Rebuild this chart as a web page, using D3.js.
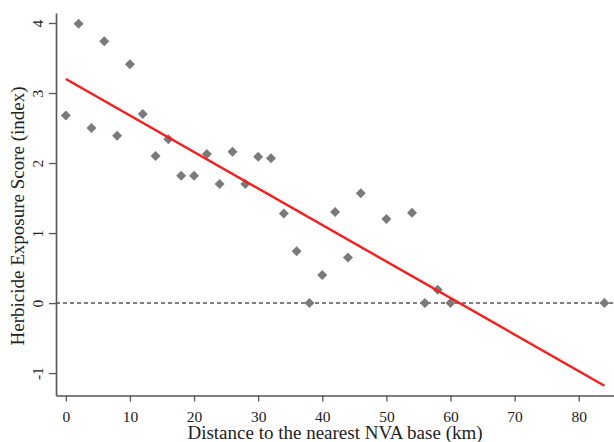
<!DOCTYPE html>
<html>
<head>
<meta charset="utf-8">
<script src="https://cdn.jsdelivr.net/npm/d3@7"></script>
<style>
  html, body { margin: 0; padding: 0; background: #fff; }
  svg { display: block; }
</style>
</head>
<body>
<svg id="chart" width="614" height="442"></svg>
<script>
// Data
const distanceKm = [0, 2, 4, 6, 8, 10, 12, 14, 16, 18, 20, 22, 24, 26, 28, 30, 32, 34, 36, 38, 40, 42, 44, 46, 50, 54, 56, 58, 60, 84];
const exposureScore = [2.68, 3.99, 2.50, 3.74, 2.39, 3.41, 2.70, 2.10, 2.34, 1.82, 1.82, 2.13, 1.70, 2.16, 1.70, 2.09, 2.07, 1.28, 0.74, 0.00, 0.40, 1.30, 0.65, 1.57, 1.20, 1.29, 0.00, 0.19, 0.00, 0.00];
const fitX = [0, 84];
const fitY = [3.20, -1.18];
const xTicks = [0, 10, 20, 30, 40, 50, 60, 70, 80];
const yTicks = [-1, 0, 1, 2, 3, 4];
const xTitle = "Distance to the nearest NVA base (km)";
const yTitle = "Herbicide Exposure Score (index)";

(function () {
const svg = d3.select("#chart");
const mLeft = 56, mRight = 614, mTop = 13, mBottom = 395.5;

const x = d3.scaleLinear().domain([-1.53, 85.5]).range([mLeft, mRight]);
const y = d3.scaleLinear().domain([-1.32, 4.143]).range([mBottom, mTop]);

const font = "'Liberation Serif', 'Times New Roman', serif";
const axisColor = "#555";

// X axis
const gx = svg.append("g").attr("transform", `translate(0,${mBottom})`)
  .call(d3.axisBottom(x).tickValues(xTicks).tickSize(6).tickPadding(9).tickSizeOuter(0));
gx.select(".domain").attr("stroke", axisColor).attr("stroke-width", 1.6);
gx.selectAll(".tick line").attr("stroke", axisColor).attr("stroke-width", 1.3);
gx.selectAll(".tick text").attr("fill", "#222").style("font-family", font).style("font-size", "15.5px");

// Y axis
const gy = svg.append("g").attr("transform", `translate(${mLeft},0)`)
  .call(d3.axisLeft(y).tickValues(yTicks).tickSize(7).tickSizeOuter(0).tickFormat(d3.format("d")));
gy.select(".domain").attr("stroke", axisColor).attr("stroke-width", 1.6);
gy.selectAll(".tick line").attr("stroke", axisColor).attr("stroke-width", 1.3);
gy.selectAll(".tick text")
  .attr("fill", "#222")
  .style("font-family", font).style("font-size", "15.5px")
  .attr("x", null)
  .attr("text-anchor", "middle")
  .attr("transform", "translate(-17.5,0) rotate(-90)")
  .attr("dy", "0.32em")
  .text(d => d < 0 ? "-" + Math.abs(d) : d);

// Zero reference dashed line
svg.append("line")
  .attr("x1", mLeft).attr("x2", mRight)
  .attr("y1", y(0)).attr("y2", y(0))
  .attr("stroke", "#555").attr("stroke-width", 1.5)
  .attr("stroke-dasharray", "4,3");

// Points (diamonds)
const diamond = d3.symbol().type(d3.symbolSquare).size(50);
svg.append("g").selectAll("path")
  .data(distanceKm.map((d, i) => [d, exposureScore[i]]))
  .join("path")
  .attr("d", diamond)
  .attr("transform", d => `translate(${x(d[0])},${y(d[1])}) rotate(45)`)
  .attr("fill", "#7a7a7a");

// Fitted line
svg.append("path")
  .datum(fitX.map((d, i) => [d, fitY[i]]))
  .attr("d", d3.line().x(d => x(d[0])).y(d => y(d[1])))
  .attr("stroke", "#ff1a1a").attr("stroke-width", 2.4).attr("fill", "none");

// Titles
svg.append("text")
  .attr("x", 335).attr("y", 439)
  .attr("text-anchor", "middle")
  .style("font-family", font).style("font-size", "19px").attr("fill", "#222")
  .text(xTitle);

svg.append("text")
  .attr("transform", `translate(24,216) rotate(-90)`)
  .attr("text-anchor", "middle")
  .style("font-family", font).style("font-size", "19px").attr("fill", "#222")
  .text(yTitle);
})();
</script>
</body>
</html>
